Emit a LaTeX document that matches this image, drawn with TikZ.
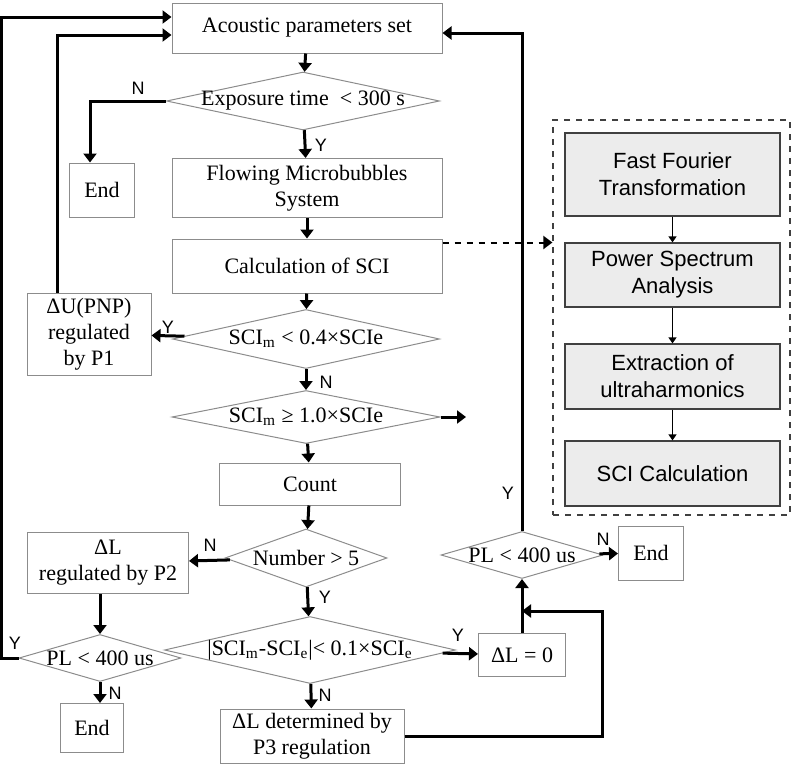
\documentclass[tikz,border=0pt]{standalone}
\usepackage{fontspec}
\setmainfont{Liberation Serif}
\setsansfont{Liberation Sans}
\usetikzlibrary{arrows.meta,shapes.geometric}

\newcommand{\dtext}[1]{\makebox[0pt]{#1}}

\tikzset{
  box/.style={draw=gray!90,line width=.5pt,align=center,inner sep=1pt,font=\fontsize{11}{13}\selectfont},
  decision/.style={diamond,draw=gray!90,line width=.5pt,inner sep=0pt,aspect=1,font=\fontsize{11}{13}\selectfont},
  stage/.style={draw=black!75,fill=gray!15,line width=.6pt,align=center,minimum width=107.5pt,font=\sffamily\fontsize{11}{13.5}\selectfont},
  yn/.style={font=\sffamily\fontsize{9}{10}\selectfont,inner sep=0pt},
  link/.style={->,line width=1.5pt},
  thinlink/.style={-{Triangle[length=3pt,width=4pt]},line width=.6pt},
}

\begin{document}
\begin{tikzpicture}[x=0.5pt,y=-0.5pt,>={Triangle[length=4.5pt,width=6.5pt]}]
\useasboundingbox (0,0) rectangle (794,766);

% main column
\node[box,minimum width=135pt,minimum height=25pt] (acoustic) at (307,28) {Acoustic parameters set};
\node[decision,minimum width=136.5pt,minimum height=29pt] (exposure) at (303,101) {\dtext{Exposure time\enspace< 300 s}};
\node[box,minimum width=32.5pt,minimum height=27pt] (end1) at (102,190) {End};
\node[box,minimum width=135pt,minimum height=29.5pt] (flow) at (307,188) {Flowing Microbubbles\\System};
\node[box,minimum width=135pt,minimum height=27pt] (calc) at (307,266) {Calculation of SCI};
\node[decision,minimum width=133.5pt,minimum height=29.5pt] (low) at (306,339) {\dtext{SCI\textsubscript{m} < 0.4×SCIe}};
\node[box,minimum width=62pt,minimum height=41pt] (pnp) at (89,334) {ΔU(PNP)\\regulated\\by P1};
\node[decision,minimum width=134pt,minimum height=26.5pt] (high) at (306,417) {\dtext{SCI\textsubscript{m} ≥ 1.0×SCIe}};
\coordinate (highout) at (466,417);
\node[box,minimum width=90.5pt,minimum height=21pt] (count) at (310,484) {Count};
\node[decision,minimum width=81pt,minimum height=29pt] (number) at (306,558) {\dtext{Number > 5}};
\node[box,minimum width=80.5pt,minimum height=30.5pt] (ptwo) at (108,563) {ΔL\\regulated by P2};
\node[decision,minimum width=81pt,minimum height=23.5pt] (plleft) at (100,658) {\dtext{PL < 400 us}};
\node[box,minimum width=31.5pt,minimum height=24.5pt] (end2) at (92,728) {End};
\node[decision,minimum width=145.5pt,minimum height=33.5pt] (diff) at (310,650) {\dtext{|SCI\textsubscript{m}-SCI\textsubscript{e}|< 0.1×SCI\textsubscript{e}}};
\node[box,minimum width=43.5pt,minimum height=21.5pt] (zero) at (522,655) {ΔL = 0};
\node[box,minimum width=92pt,minimum height=27pt] (pthree) at (312,736) {ΔL determined by\\P3 regulation};
\node[decision,minimum width=81pt,minimum height=23.5pt] (plright) at (522,555) {\dtext{PL < 400 us}};
\node[box,minimum width=32.5pt,minimum height=27pt] (end3) at (651,553) {End};

% SCI panel
\node[draw=black!75,dashed,line width=.6pt,minimum width=118.5pt,minimum height=197.5pt,inner sep=0pt] (panel) at (671.5,317.5) {};
\node[stage,minimum height=41.5pt] (fft) at (672.5,174.5) {Fast Fourier\\Transformation};
\node[stage,minimum height=32pt] (psa) at (672.5,275) {Power Spectrum\\Analysis};
\node[stage,minimum height=32.5pt] (ext) at (672.5,376.5) {Extraction of\\ultraharmonics};
\node[stage,minimum height=32.5pt] (scic) at (672.5,473.5) {SCI Calculation};
\draw[thinlink] (fft) -- (psa);
\draw[thinlink] (psa) -- (ext);
\draw[thinlink] (ext) -- (scic);
\draw[->,dashed,line width=1pt] ([yshift=-2pt]calc.north east) -- ([yshift=-2pt]calc.north east -| panel.west);

% connectors
\draw[link] (acoustic) -- (exposure);
\draw[link] (exposure.west) -| ([xshift=-6pt]end1.north);
\draw[link] (exposure) -- (flow);
\draw[link] (flow) -- (calc);
\draw[link] (calc) -- (low);
\draw[link] (low) -- (pnp);
\draw[link] ([xshift=-16pt]pnp.north) |- ([yshift=-3.5pt]acoustic.west);
\draw[link] (low) -- (high);
\draw[link] (high.east) -- (highout);
\draw[link] (high) -- (count);
\draw[link] (count) -- (number);
\draw[link] (number) -- (ptwo);
\draw[link] (plleft.north |- ptwo.south) -- (plleft.north);
\draw[link] (plleft.west) -- ++(-8.5pt,0) |- ([yshift=5.5pt]acoustic.west);
\draw[link] (plleft.south) -- (plleft.south |- end2.north);
\draw[link] (number) -- (diff);
\draw[link] (diff) -- (zero);
\draw[link] (diff) -- (pthree);
\draw[link] (pthree.east) -- ++(99pt,0) |- ([yshift=11pt]zero.north);
\draw[link] (zero) -- (plright);
\draw[link] (plright) -- (end3);
\draw[link] (plright.north) |- ([yshift=-2.5pt]acoustic.east);

% Y / N labels
\node[yn] (nexp) at (138,88) {N};
\node[yn] (yexp) at (321,145) {Y};
\node[yn] (ylow) at (168,327) {Y};
\node[yn] (nlow) at (326,382) {N};
\node[yn] (nnum) at (210,545) {N};
\node[yn] (ynum) at (325,597) {Y};
\node[yn] (ypll) at (15,643) {Y};
\node[yn] (npll) at (115,693) {N};
\node[yn] (ydiff) at (458,635) {Y};
\node[yn] (ndiff) at (325,695) {N};
\node[yn] (nplr) at (603,539) {N};
\node[yn] (yplr) at (508,493) {Y};
\end{tikzpicture}
\end{document}
